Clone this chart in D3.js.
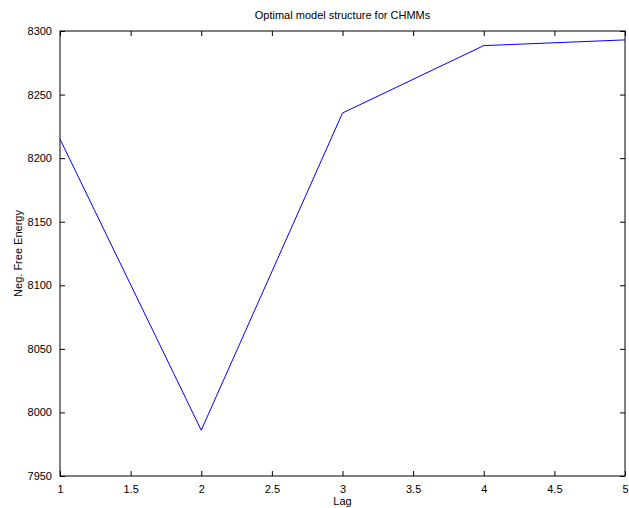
<!DOCTYPE html>
<html>
<head>
<meta charset="utf-8">
<script src="https://cdn.jsdelivr.net/npm/d3@7"></script>
<style>
  body { margin: 0; background: #fff; }
  text { font-family: "Liberation Sans", Arial, sans-serif; fill: #000; }
</style>
</head>
<body>
<div id="chart"></div>
<script>
// data
const lags = [1, 2, 3, 4, 5];
const negFreeEnergy = [8215, 7986, 8235.5, 8288.5, 8293];
const xTicks = [1, 1.5, 2, 2.5, 3, 3.5, 4, 4.5, 5];
const yTicks = [7950, 8000, 8050, 8100, 8150, 8200, 8250, 8300];

const W = 629, H = 508;
const margin = { top: 31, right: 4, bottom: 32, left: 60 };
const plotW = W - margin.left - margin.right;
const plotH = H - margin.top - margin.bottom;

const svg = d3.select('#chart')
    .append('svg')
    .attr('width', W)
    .attr('height', H);

const g = svg.append('g')
    .attr('transform', `translate(${margin.left},${margin.top})`);

const x = d3.scaleLinear().domain([1, 5]).range([0, plotW]);
const y = d3.scaleLinear().domain([7950, 8300]).range([plotH, 0]);

// axes, ticks point inward like matlab
const tickLen = 5;
const fmt = d3.format('');

const styleAxis = sel => {
    sel.select('.domain').remove();
    sel.selectAll('line').attr('stroke', '#000').attr('stroke-width', 1);
    sel.selectAll('text').style('font-size', '11px');
};

g.append('g')
    .attr('transform', `translate(0,${plotH})`)
    .call(d3.axisBottom(x).tickValues(xTicks).tickSize(-tickLen).tickPadding(tickLen + 4).tickFormat(fmt))
    .call(styleAxis);

g.append('g')
    .call(d3.axisTop(x).tickValues(xTicks).tickSize(-tickLen).tickFormat(''))
    .call(styleAxis);

g.append('g')
    .call(d3.axisLeft(y).tickValues(yTicks).tickSize(-tickLen).tickPadding(tickLen + 3).tickFormat(fmt))
    .call(styleAxis);

g.append('g')
    .attr('transform', `translate(${plotW},0)`)
    .call(d3.axisRight(y).tickValues(yTicks).tickSize(-tickLen).tickFormat(''))
    .call(styleAxis);

// box
g.append('rect')
    .attr('width', plotW)
    .attr('height', plotH)
    .attr('fill', 'none')
    .attr('stroke', '#000')
    .attr('stroke-width', 1);

// line
const line = d3.line()
    .x((d, i) => x(lags[i]))
    .y(d => y(d));

g.append('path')
    .datum(negFreeEnergy)
    .attr('d', line)
    .attr('fill', 'none')
    .attr('stroke', '#0000ff')
    .attr('stroke-width', 1);

// labels
svg.append('text')
    .attr('x', margin.left + plotW / 2)
    .attr('y', 19)
    .attr('text-anchor', 'middle')
    .style('font-size', '11px')
    .text('Optimal model structure for CHMMs');

svg.append('text')
    .attr('x', margin.left + plotW / 2)
    .attr('y', 505)
    .attr('text-anchor', 'middle')
    .style('font-size', '11px')
    .text('Lag');

svg.append('text')
    .attr('transform', `translate(22,${margin.top + plotH / 2}) rotate(-90)`)
    .attr('text-anchor', 'middle')
    .style('font-size', '11px')
    .text('Neg. Free Energy');
</script>
</body>
</html>
